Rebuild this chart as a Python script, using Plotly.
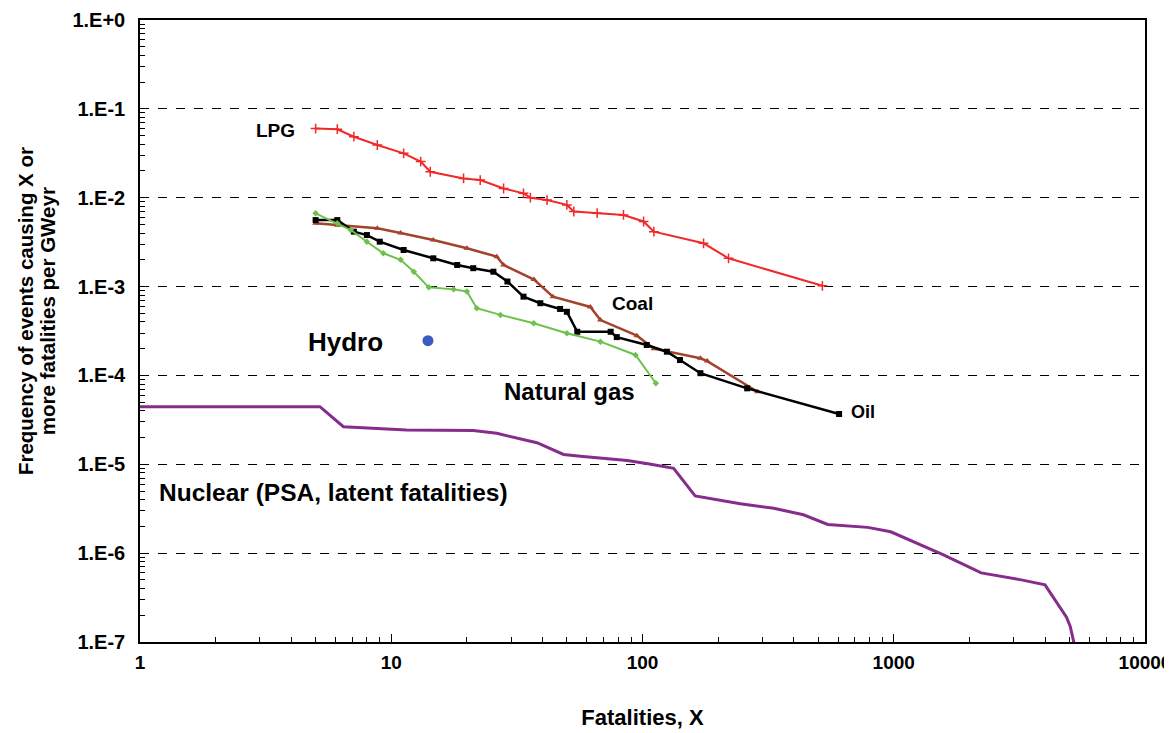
import plotly.graph_objects as go

# ---- data ----
lpg_x = [5, 6.1, 7.1, 8.8, 11.2, 13.1, 14.3, 19.4, 22.6, 28, 33.6, 35.8, 41.7, 50, 53.3, 66, 84, 101, 111, 175, 220, 520]
lpg_y = [0.060, 0.059, 0.0486, 0.0392, 0.0316, 0.0255, 0.0196, 0.0165, 0.0158, 0.0127, 0.0112, 0.0100, 0.0094,
         0.0083, 0.0070, 0.0067, 0.0064, 0.0054, 0.00415, 0.00307, 0.00208, 0.00102]

coal_x = [5, 6.1, 8.8, 10.9, 14.7, 20, 26.3, 28, 37, 44, 62, 68, 95, 111, 170, 181, 287]
coal_y = [0.00515, 0.0049, 0.00453, 0.0040, 0.00334, 0.0027, 0.00217, 0.00175, 0.00120, 0.00077, 0.00059,
          0.00042, 0.00028, 0.00020, 0.000156, 0.000145, 0.0000656]

oil_x = [5, 6.1, 7.1, 8.0, 9.0, 11.2, 14.7, 18.3, 21.2, 25.5, 29, 33.6, 39.2, 47, 50, 55, 74.7, 79, 104, 125, 141, 170, 261, 606]
oil_y = [0.0056, 0.0056, 0.00415, 0.0038, 0.0032, 0.00258, 0.00208, 0.00175, 0.00161, 0.00147, 0.00114, 0.00077,
         0.00065, 0.00056, 0.00052, 0.00031, 0.00031, 0.00027, 0.00022, 0.000185, 0.000149, 0.000106, 0.0000716, 0.0000368]

gas_x = [5, 6.1, 6.9, 8.0, 9.3, 10.9, 12.3, 14.1, 17.7, 20, 21.9, 27.2, 36.9, 50, 68, 93.8, 113]
gas_y = [0.00668, 0.00515, 0.00433, 0.0032, 0.00237, 0.0020, 0.00147, 0.00098, 0.00093, 0.00088, 0.00057,
         0.00048, 0.000386, 0.000298, 0.00024, 0.00017, 0.0000816]

hydro_x = [14.0]
hydro_y = [0.000246]

nuc_x = [1, 5.2, 6.45, 11.5, 21.2, 26.3, 38, 48.5, 58, 70, 87, 108, 133, 162, 245, 333, 437, 546, 788, 973,
         1240, 1585, 2228, 3220, 4000, 4870, 5040, 5300]
nuc_y = [4.45e-5, 4.45e-5, 2.65e-5, 2.43e-5, 2.4e-5, 2.23e-5, 1.75e-5, 1.29e-5, 1.22e-5, 1.17e-5, 1.1e-5, 1.0e-5,
         9.0e-6, 4.4e-6, 3.6e-6, 3.2e-6, 2.7e-6, 2.1e-6, 1.95e-6, 1.74e-6, 1.3e-6, 9.5e-7, 6.0e-7, 5.0e-7,
         4.4e-7, 1.9e-7, 1.5e-7, 8e-8]

x_tickvals = [1, 10, 100, 1000, 10000]
x_ticktext = ["1", "10", "100", "1000", "10000"]
y_tickvals = [1e-7, 1e-6, 1e-5, 1e-4, 1e-3, 1e-2, 1e-1, 1]
y_ticktext = ["1.E-7", "1.E-6", "1.E-5", "1.E-4", "1.E-3", "1.E-2", "1.E-1", "1.E+0"]
y_title_lines = ["Frequency of events causing X or", "more fatalities per GWeyr"]

FONT = "Liberation Sans, Arial, sans-serif"

fig = go.Figure()

fig.add_trace(go.Scatter(x=nuc_x, y=nuc_y, mode="lines", line=dict(color="#862d8c", width=3), name="Nuclear"))
fig.add_trace(go.Scatter(x=lpg_x, y=lpg_y, mode="lines+markers", line=dict(color="#f02828", width=2),
                         marker=dict(symbol="cross-thin", size=7, line=dict(color="#f02828", width=1.5)), name="LPG"))
fig.add_trace(go.Scatter(x=coal_x, y=coal_y, mode="lines+markers", line=dict(color="#a3432b", width=2.5),
                         marker=dict(symbol="triangle-up", size=6, color="#a3432b"), name="Coal"))
fig.add_trace(go.Scatter(x=oil_x, y=oil_y, mode="lines+markers", line=dict(color="black", width=2.5),
                         marker=dict(symbol="square", size=6, color="black"), name="Oil"))
fig.add_trace(go.Scatter(x=gas_x, y=gas_y, mode="lines+markers", line=dict(color="#6cc24a", width=2),
                         marker=dict(symbol="diamond", size=5, color="#6cc24a"), name="Natural gas"))
fig.add_trace(go.Scatter(x=hydro_x, y=hydro_y, mode="markers",
                         marker=dict(symbol="circle", size=11, color="#3a5bbf"), name="Hydro"))

def minor_vals(lo, hi):
    vals = []
    for e in range(lo, hi):
        for m in range(2, 10):
            vals.append(m * 10.0 ** e)
    return vals

annos = [
    ("LPG", 0.538, -1.249, 19),
    ("Coal", 1.96, -3.185, 19),
    ("Hydro", 0.817, -3.624, 26),
    ("Natural gas", 1.709, -4.186, 24),
    ("Oil", 2.876, -4.411, 18),
    ("Nuclear (PSA, latent fatalities)", 0.769, -5.323, 24.5),
]
for txt, ax, ay, sz in annos:
    fig.add_annotation(x=ax, y=ay, xref="x", yref="y", text="<b>%s</b>" % txt, showarrow=False,
                       font=dict(family=FONT, size=sz, color="black"))

# y-axis title as two rotated annotation lines (paper coordinates)
for line_txt, px in zip(y_title_lines, [-0.1144, -0.0925]):
    fig.add_annotation(x=px, y=0.532, xref="paper", yref="paper", textangle=-90,
                       xanchor="center", yanchor="middle",
                       text="<b>%s</b>" % line_txt,
                       showarrow=False, font=dict(family=FONT, size=20.5, color="black"))

fig.update_layout(
    width=1172, height=733,
    margin=dict(l=132, r=35, t=12, b=99),
    paper_bgcolor="white", plot_bgcolor="white",
    showlegend=False,
    font=dict(family=FONT, color="black"),
)
fig.update_xaxes(
    type="log", range=[0, 4], automargin=False,
    tickmode="array", tickvals=x_tickvals, ticktext=["<b>%s</b>" % t for t in x_ticktext],
    tickfont=dict(family=FONT, size=19, color="black"),
    ticks="inside", ticklen=8, tickcolor="black",
    minor=dict(tickmode="array", tickvals=minor_vals(0, 4), ticks="inside", ticklen=5, tickcolor="black", showgrid=False),
    showgrid=False, showline=True, linecolor="black", linewidth=1.5, mirror=True,
    ticklabelstandoff=2,
    title=dict(text="<b>Fatalities, X</b>", font=dict(family=FONT, size=22, color="black"), standoff=38),
)
fig.update_yaxes(
    type="log", range=[-7, 0], automargin=False,
    tickmode="array", tickvals=y_tickvals, ticktext=["<b>%s</b>" % t for t in y_ticktext],
    tickfont=dict(family=FONT, size=20, color="black"),
    ticks="inside", ticklen=8, tickcolor="black",
    minor=dict(tickmode="array", tickvals=minor_vals(-7, 0), ticks="inside", ticklen=5, tickcolor="black", showgrid=False),
    showgrid=True, gridcolor="black", gridwidth=1, griddash="dash",
    showline=True, linecolor="black", linewidth=1.5, mirror=True,
    ticklabelstandoff=9,
)

fig.write_html("out.html")
